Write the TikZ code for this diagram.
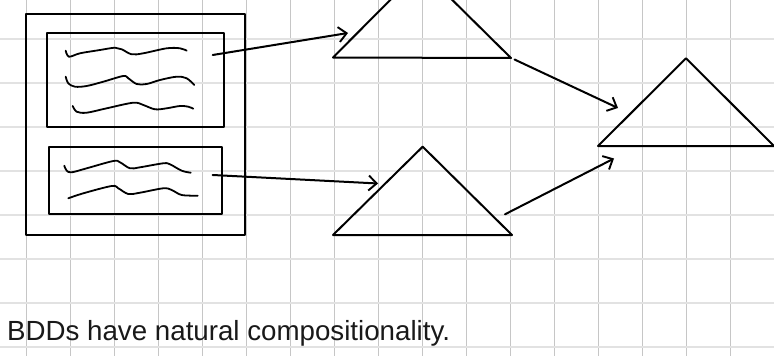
\documentclass[tikz,border=0pt]{standalone}
\usepackage{fontspec}
\setmainfont{Liberation Sans}
\usetikzlibrary{arrows.meta}
\definecolor{gridv}{HTML}{C6C6C6}
\definecolor{gridh}{HTML}{E2E2E2}
\tikzset{
  ink/.style={line width=2pt, line cap=round, line join=round, black},
  scribble/.style={line width=1.8pt, line cap=round, black, smooth, tension=0.55},
  arr/.style={ink, -{Straight Barb[length=8pt,width=15pt,line width=1.9pt]}},
}
\begin{document}
\begin{tikzpicture}[x=1pt,y=-1pt]
\useasboundingbox (0,0) rectangle (774,356);
\clip (0,0) rectangle (774,356);
\fill[white] (0,0) rectangle (774,356);
% grid
\foreach \k in {0,...,16} \draw[gridv, line width=1pt] ({26.7+44*\k},0) -- ({26.7+44*\k},356);
\foreach \k in {1,...,8} \draw[gridh, line width=2pt] (0,{-4.7+44*\k}) -- (774,{-4.7+44*\k});
% outer box and inner boxes
\draw[ink] (26,14) rectangle (245,235);
\draw[ink] (47,33) rectangle (224,127);
\draw[ink] (49,147) rectangle (222,214);
% scribbles box 1
\draw[scribble] plot coordinates {(65.7,50.7) (69,56.7) (80,53.3) (100,50) (115,47.7) (121.7,49.3) (131.7,54.3) (143.3,53.3) (166.7,48.3) (180,48.3) (186.7,50.7)};
\draw[scribble] plot coordinates {(65.7,76.7) (68.3,83.3) (75,86.7) (86.7,86) (103.3,81.7) (123.3,76) (128.3,78.3) (136.7,84) (146.7,84) (160,80) (176.7,76.7) (186.7,78.3) (194.3,85)};
\draw[scribble] plot coordinates {(72.7,106) (76.7,111.7) (86.7,112.7) (106.7,108.3) (133.3,102.7) (143.3,105) (155,109.3) (166.7,108.3) (180,106) (188.3,106.7) (193.3,108.7)};
% scribbles box 2
\draw[scribble] plot coordinates {(64.3,165.7) (66.7,170.7) (71.7,172.3) (86.7,168.3) (113.3,161) (120,162.3) (130,168.3) (140,167.3) (163.3,163.3) (170,164.3) (181.7,170.7) (190.7,172.7)};
\draw[scribble] plot coordinates {(68.3,198.3) (83.3,193.3) (111.7,186) (118.3,188.3) (128.3,194) (140,192.7) (163.3,188.3) (171.7,190) (181.7,195) (197.7,195.7)};
% triangles
\coordinate (t1l) at (333,57.5); \coordinate (t1a) at (421,-31); \coordinate (t1r) at (511,58);
\coordinate (t2l) at (333,235); \coordinate (t2a) at (422.7,146.7); \coordinate (t2r) at (512,235);
\coordinate (t3l) at (598,146); \coordinate (t3a) at (686,58.3); \coordinate (t3r) at (774,146);
\draw[ink] (t1l) -- (t1a) -- (t1r) -- cycle;
\draw[ink] (t2l) -- (t2a) -- (t2r) -- cycle;
\draw[ink] (t3l) -- (t3a) -- (t3r) -- cycle;
% arrows
\coordinate (a1s) at (212.7,55); \coordinate (a1e) at (348,33);
\coordinate (a2s) at (212.7,175); \coordinate (a2e) at (378,183.5);
\coordinate (a3s) at (514.5,59.5); \coordinate (a3e) at (618,108);
\coordinate (a4s) at (505,214.3); \coordinate (a4e) at (614,158.5);
\draw[arr] (a1s) -- (a1e);
\draw[arr] (a2s) -- (a2e);
\draw[arr] (a3s) -- (a3e);
\draw[arr] (a4s) -- (a4e);
% caption
\node[anchor=base west, inner sep=0pt, font=\fontsize{27.7}{33}\selectfont, text=black!90] (cap) at (7,340) {BDDs have natural compositionality.};
\end{tikzpicture}
\end{document}
